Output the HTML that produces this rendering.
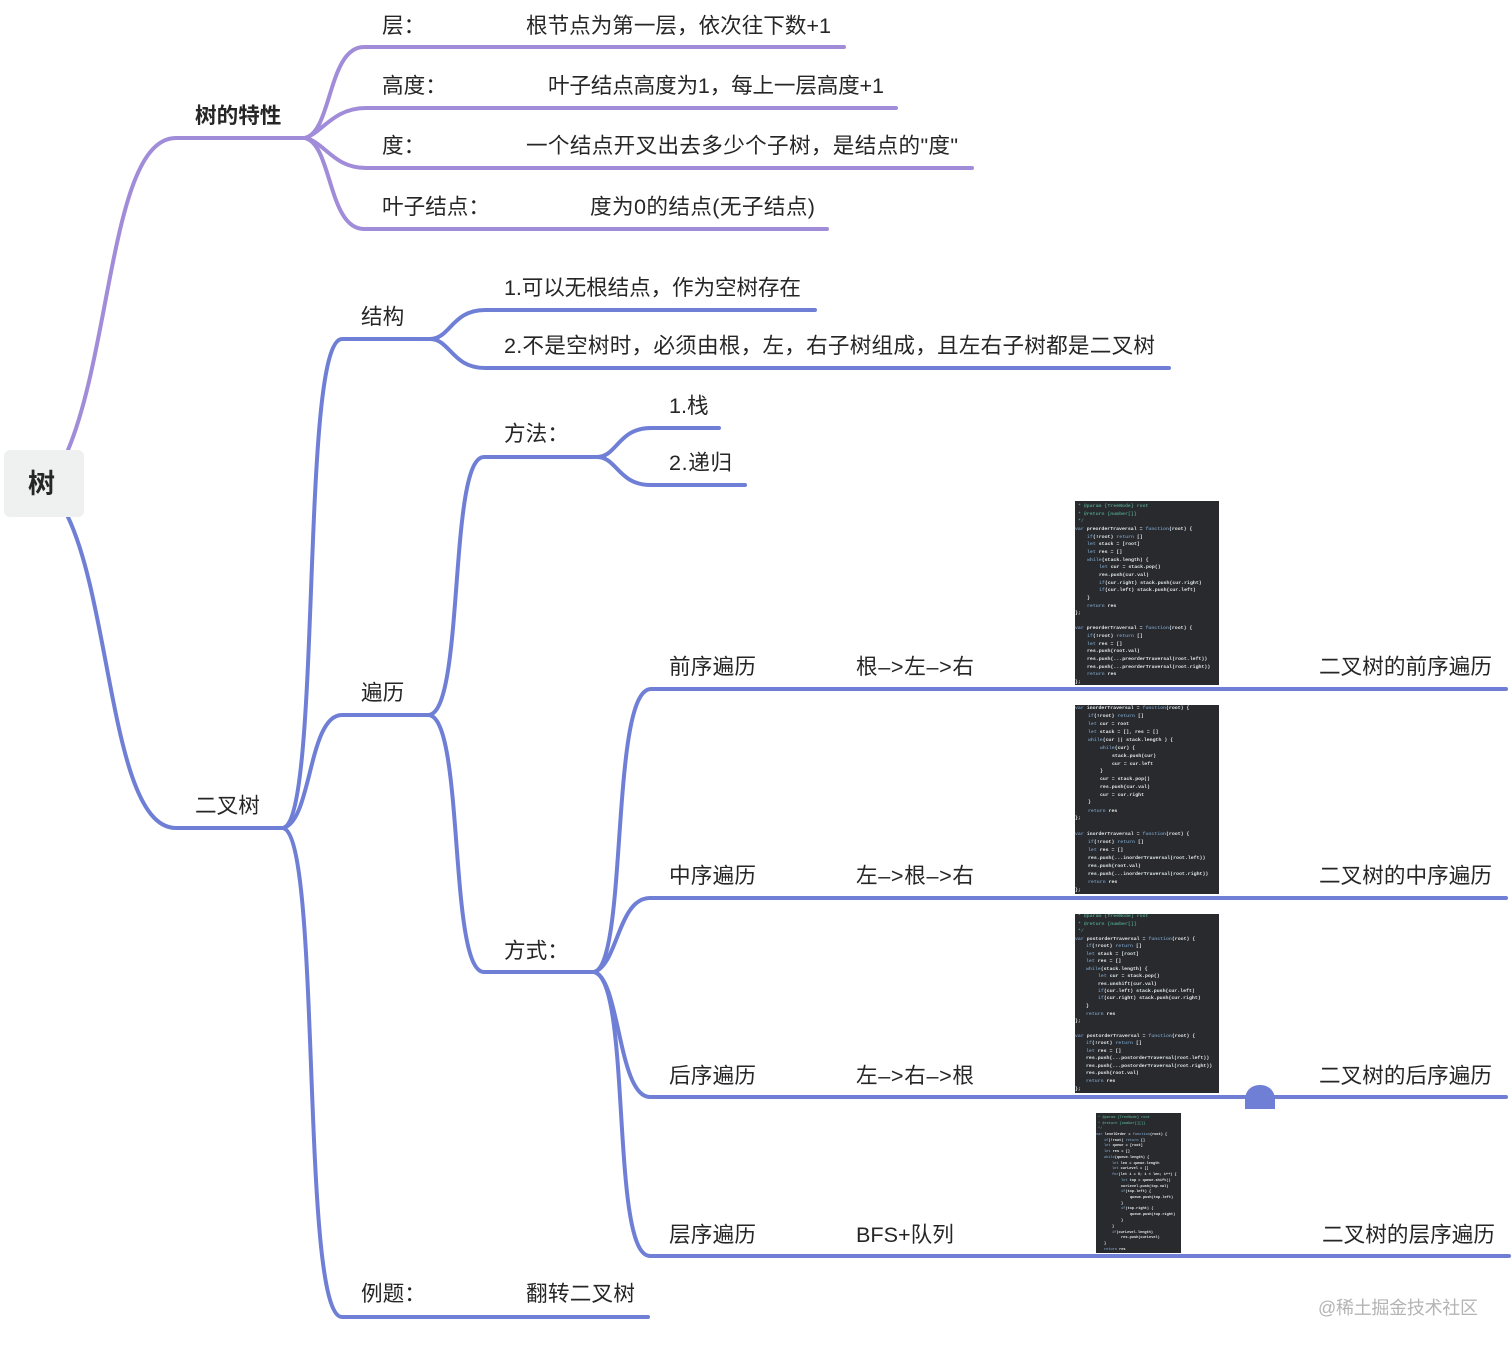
<!DOCTYPE html>
<html lang="zh-CN">
<head>
<meta charset="utf-8">
<title>树</title>
<style>
html,body{margin:0;padding:0;background:#fff;width:1512px;height:1351px;overflow:hidden}
svg{display:block}
.t{font-family:"Liberation Sans","Noto Sans CJK SC",sans-serif;font-size:21.6px;fill:#262626}
.b{font-weight:700;font-size:21.6px}
.p{fill:none;stroke:#a08cd8;stroke-width:4;stroke-linecap:round}
.l{fill:none;stroke:#6f7fd6;stroke-width:4;stroke-linecap:round}
.c{font-family:"Liberation Mono",monospace;font-size:4.9px;fill:#e2e8ea;white-space:pre;font-weight:700}
.c2{font-size:3.6px}
.k{fill:#6f8fae}
.g{fill:#4f9a80}
.code{filter:blur(.35px)}
</style>
</head>
<body>
<svg width="1512" height="1351" viewBox="0 0 1512 1351" xmlns="http://www.w3.org/2000/svg">
<rect width="1512" height="1351" fill="#fff"/>

<!-- purple branches -->
<path class="p" d="M68 450C112 345 112 138 176 138L305 138"/>
<path class="p" d="M305 138C332 132 328 47 364 47L844 47"/>
<path class="p" d="M305 138C322 133 333 108 366 108L896 108"/>
<path class="p" d="M305 138C325 142 333 168 366 168L972 168"/>
<path class="p" d="M305 138C332 144 328 229 364 229L827 229"/>

<!-- blue branches -->
<path class="l" d="M68 517C112 610 112 828 176 828L283 828"/>
<path class="l" d="M283 828C322 820 300 339 342 339L430 339"/>
<path class="l" d="M283 828C312 822 308 715 342 715L428 715"/>
<path class="l" d="M283 828C322 836 300 1317 342 1317L648 1317"/>
<path class="l" d="M430 339C450 339 452 310 485 310L815 310"/>
<path class="l" d="M430 339C450 339 452 368 485 368L1169 368"/>
<path class="l" d="M428 715C465 715 448 457 484 457L597 457"/>
<path class="l" d="M428 715C465 715 448 972 484 972L594 972"/>
<path class="l" d="M597 457C617 457 618 428 651 428L719 428"/>
<path class="l" d="M597 457C617 457 618 485 651 485L745 485"/>
<path class="l" d="M594 972C628 965 610 689 651 689L1506 689"/>
<path class="l" d="M594 972C618 965 618 898 650 898L1506 898"/>
<path class="l" d="M594 972C620 978 618 1097 650 1097L1506 1097"/>
<path class="l" d="M594 972C632 980 610 1256 650 1256L1509 1256"/>
<path d="M1245 1109L1245 1100C1245 1091 1251 1085 1260 1085C1269 1085 1275 1091 1275 1100L1275 1109Z" fill="#6f7fd6"/>

<!-- root -->
<rect x="4" y="450" width="80" height="67" rx="6" fill="#eff0f0"/>
<text class="t" x="28" y="493" style="font-size:27px;font-weight:700">树</text>

<!-- labels -->
<text class="t b" x="195" y="123">树的特性</text>
<text class="t" x="382" y="33">层：</text>
<text class="t" x="526" y="33" textLength="305">根节点为第一层，依次往下数+1</text>
<text class="t" x="382" y="93">高度：</text>
<text class="t" x="548" y="93" textLength="336">叶子结点高度为1，每上一层高度+1</text>
<text class="t" x="382" y="153">度：</text>
<text class="t" x="526" y="153" textLength="432">一个结点开叉出去多少个子树，是结点的"度"</text>
<text class="t" x="382" y="214">叶子结点：</text>
<text class="t" x="590" y="214" textLength="225">度为0的结点(无子结点)</text>

<text class="t" x="361" y="324">结构</text>
<text class="t" x="504" y="295" textLength="297">1.可以无根结点，作为空树存在</text>
<text class="t" x="504" y="353" textLength="651">2.不是空树时，必须由根，左，右子树组成，且左右子树都是二叉树</text>
<text class="t" x="361" y="700">遍历</text>
<text class="t" x="504" y="441">方法：</text>
<text class="t" x="669" y="413">1.栈</text>
<text class="t" x="669" y="470" textLength="63">2.递归</text>
<text class="t" x="504" y="958">方式：</text>
<text class="t" x="195" y="813">二叉树</text>

<text class="t" x="669" y="674" textLength="87">前序遍历</text>
<text class="t" x="856" y="674" textLength="118">根–&gt;左–&gt;右</text>
<text class="t" x="1319" y="674" textLength="173">二叉树的前序遍历</text>
<text class="t" x="669" y="883" textLength="87">中序遍历</text>
<text class="t" x="856" y="883" textLength="118">左–&gt;根–&gt;右</text>
<text class="t" x="1319" y="883" textLength="173">二叉树的中序遍历</text>
<text class="t" x="669" y="1083" textLength="87">后序遍历</text>
<text class="t" x="856" y="1083" textLength="118">左–&gt;右–&gt;根</text>
<text class="t" x="1319" y="1083" textLength="173">二叉树的后序遍历</text>
<text class="t" x="669" y="1242" textLength="87">层序遍历</text>
<text class="t" x="856" y="1242">BFS+队列</text>
<text class="t" x="1322" y="1242" textLength="173">二叉树的层序遍历</text>
<text class="t" x="361" y="1301">例题：</text>
<text class="t" x="526" y="1301" textLength="109">翻转二叉树</text>

<text x="1318" y="1314" textLength="160" style="font-family:'Liberation Sans','Noto Sans CJK SC',sans-serif;font-size:18px;fill:#b4b4b4">@稀土掘金技术社区</text>

<!-- code image 1 -->
<svg x="1075" y="501" width="144" height="184" viewBox="0 0 144 184">
<rect width="144" height="184" fill="#282a2e"/>
<g class="code">
<text class="c g" x="3" y="6">* @param {TreeNode} root</text>
<text class="c g" x="3" y="14">* @return {number[]}</text>
<text class="c g" x="3" y="21">*/</text>
<text class="c" x="0" y="29"><tspan class="k">var</tspan> preorderTraversal = <tspan class="k">function</tspan>(root) {</text>
<text class="c" x="12" y="37"><tspan class="k">if</tspan>(!root) <tspan class="k">return</tspan> []</text>
<text class="c" x="12" y="44"><tspan class="k">let</tspan> stack = [root]</text>
<text class="c" x="12" y="52"><tspan class="k">let</tspan> res = []</text>
<text class="c" x="12" y="60"><tspan class="k">while</tspan>(stack.length) {</text>
<text class="c" x="24" y="67"><tspan class="k">let</tspan> cur = stack.pop()</text>
<text class="c" x="24" y="75">res.push(cur.val)</text>
<text class="c" x="24" y="83"><tspan class="k">if</tspan>(cur.right) stack.push(cur.right)</text>
<text class="c" x="24" y="90"><tspan class="k">if</tspan>(cur.left) stack.push(cur.left)</text>
<text class="c" x="12" y="98">}</text>
<text class="c" x="12" y="106"><tspan class="k">return</tspan> res</text>
<text class="c" x="0" y="113">};</text>
<text class="c" x="0" y="128"><tspan class="k">var</tspan> preorderTraversal = <tspan class="k">function</tspan>(root) {</text>
<text class="c" x="12" y="136"><tspan class="k">if</tspan>(!root) <tspan class="k">return</tspan> []</text>
<text class="c" x="12" y="144"><tspan class="k">let</tspan> res = []</text>
<text class="c" x="12" y="151">res.push(root.val)</text>
<text class="c" x="12" y="159">res.push(...preorderTraversal(root.left))</text>
<text class="c" x="12" y="167">res.push(...preorderTraversal(root.right))</text>
<text class="c" x="12" y="174"><tspan class="k">return</tspan> res</text>
<text class="c" x="0" y="182">};</text>
</g>
</svg>

<!-- code image 2 -->
<svg x="1075" y="705" width="144" height="189" viewBox="0 0 144 189">
<rect width="144" height="189" fill="#282a2e"/>
<g class="code">
<text class="c" x="0" y="4"><tspan class="k">var</tspan> inorderTraversal = <tspan class="k">function</tspan>(root) {</text>
<text class="c" x="13" y="12"><tspan class="k">if</tspan>(!root) <tspan class="k">return</tspan> []</text>
<text class="c" x="13" y="20"><tspan class="k">let</tspan> cur = root</text>
<text class="c" x="13" y="28"><tspan class="k">let</tspan> stack = [], res = []</text>
<text class="c" x="13" y="36"><tspan class="k">while</tspan>(cur || stack.length ) {</text>
<text class="c" x="25" y="44"><tspan class="k">while</tspan>(cur) {</text>
<text class="c" x="37" y="52">stack.push(cur)</text>
<text class="c" x="37" y="60">cur = cur.left</text>
<text class="c" x="25" y="67">}</text>
<text class="c" x="25" y="75">cur = stack.pop()</text>
<text class="c" x="25" y="83">res.push(cur.val)</text>
<text class="c" x="25" y="91">cur = cur.right</text>
<text class="c" x="13" y="98">}</text>
<text class="c" x="13" y="107"><tspan class="k">return</tspan> res</text>
<text class="c" x="0" y="114">};</text>
<text class="c" x="0" y="130"><tspan class="k">var</tspan> inorderTraversal = <tspan class="k">function</tspan>(root) {</text>
<text class="c" x="13" y="138"><tspan class="k">if</tspan>(!root) <tspan class="k">return</tspan> []</text>
<text class="c" x="13" y="146"><tspan class="k">let</tspan> res = []</text>
<text class="c" x="13" y="154">res.push(...inorderTraversal(root.left))</text>
<text class="c" x="13" y="162">res.push(root.val)</text>
<text class="c" x="13" y="170">res.push(...inorderTraversal(root.right))</text>
<text class="c" x="13" y="178"><tspan class="k">return</tspan> res</text>
<text class="c" x="0" y="186">};</text>
</g>
</svg>

<!-- code image 3 -->
<svg x="1075" y="914" width="144" height="179" viewBox="0 0 144 179">
<rect width="144" height="179" fill="#282a2e"/>
<g class="code">
<text class="c g" x="3" y="3">* @param {TreeNode} root</text>
<text class="c g" x="3" y="11">* @return {number[]}</text>
<text class="c g" x="3" y="18">*/</text>
<text class="c" x="0" y="26"><tspan class="k">var</tspan> postorderTraversal = <tspan class="k">function</tspan>(root) {</text>
<text class="c" x="11" y="33"><tspan class="k">if</tspan>(!root) <tspan class="k">return</tspan> []</text>
<text class="c" x="11" y="41"><tspan class="k">let</tspan> stack = [root]</text>
<text class="c" x="11" y="48"><tspan class="k">let</tspan> res = []</text>
<text class="c" x="11" y="56"><tspan class="k">while</tspan>(stack.length) {</text>
<text class="c" x="23" y="63"><tspan class="k">let</tspan> cur = stack.pop()</text>
<text class="c" x="23" y="71">res.unshift(cur.val)</text>
<text class="c" x="23" y="78"><tspan class="k">if</tspan>(cur.left) stack.push(cur.left)</text>
<text class="c" x="23" y="85"><tspan class="k">if</tspan>(cur.right) stack.push(cur.right)</text>
<text class="c" x="11" y="93">}</text>
<text class="c" x="11" y="101"><tspan class="k">return</tspan> res</text>
<text class="c" x="0" y="108">};</text>
<text class="c" x="0" y="123"><tspan class="k">var</tspan> postorderTraversal = <tspan class="k">function</tspan>(root) {</text>
<text class="c" x="11" y="130"><tspan class="k">if</tspan>(!root) <tspan class="k">return</tspan> []</text>
<text class="c" x="11" y="138"><tspan class="k">let</tspan> res = []</text>
<text class="c" x="11" y="145">res.push(...postorderTraversal(root.left))</text>
<text class="c" x="11" y="153">res.push(...postorderTraversal(root.right))</text>
<text class="c" x="11" y="160">res.push(root.val)</text>
<text class="c" x="11" y="168"><tspan class="k">return</tspan> res</text>
<text class="c" x="0" y="176">};</text>
</g>
</svg>

<!-- code image 4 -->
<svg x="1096" y="1113" width="85" height="140" viewBox="0 0 85 140">
<rect width="85" height="140" fill="#282a2e"/>
<g class="code">
<text class="c c2 g" x="2" y="5">* @param {TreeNode} root</text>
<text class="c c2 g" x="2" y="11">* @return {number[][]}</text>
<text class="c c2 g" x="2" y="16">*/</text>
<text class="c c2" x="0" y="22"><tspan class="k">var</tspan> levelOrder = <tspan class="k">function</tspan>(root) {</text>
<text class="c c2" x="8" y="28"><tspan class="k">if</tspan>(!root) <tspan class="k">return</tspan> []</text>
<text class="c c2" x="8" y="33"><tspan class="k">let</tspan> queue = [root]</text>
<text class="c c2" x="8" y="39"><tspan class="k">let</tspan> res = []</text>
<text class="c c2" x="8" y="45"><tspan class="k">while</tspan>(queue.length) {</text>
<text class="c c2" x="16" y="51"><tspan class="k">let</tspan> len = queue.length</text>
<text class="c c2" x="16" y="56"><tspan class="k">let</tspan> curLevel = []</text>
<text class="c c2" x="16" y="62"><tspan class="k">for</tspan>(let i = 0; i &lt; len; i++) {</text>
<text class="c c2" x="25" y="68"><tspan class="k">let</tspan> top = queue.shift()</text>
<text class="c c2" x="25" y="74">curLevel.push(top.val)</text>
<text class="c c2" x="25" y="79"><tspan class="k">if</tspan>(top.left) {</text>
<text class="c c2" x="34" y="85">queue.push(top.left)</text>
<text class="c c2" x="25" y="91">}</text>
<text class="c c2" x="25" y="96"><tspan class="k">if</tspan>(top.right) {</text>
<text class="c c2" x="34" y="102">queue.push(top.right)</text>
<text class="c c2" x="25" y="108">}</text>
<text class="c c2" x="16" y="114">}</text>
<text class="c c2" x="16" y="120"><tspan class="k">if</tspan>(curLevel.length)</text>
<text class="c c2" x="25" y="125">res.push(curLevel)</text>
<text class="c c2" x="8" y="131">}</text>
<text class="c c2" x="8" y="137"><tspan class="k">return</tspan> res</text>
</g>
</svg>
</svg>
</body>
</html>
